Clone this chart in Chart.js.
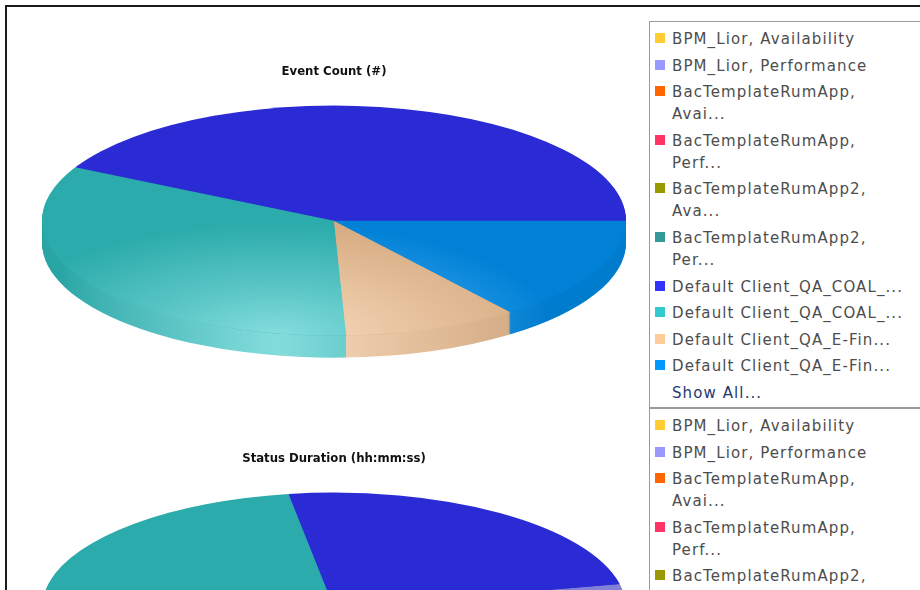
<!DOCTYPE html>
<html>
<head>
<meta charset="utf-8">
<script src="https://cdn.jsdelivr.net/npm/chart.js@4.4.1/dist/chart.umd.min.js"></script>
<style>
    html, body { margin: 0; padding: 0; background: #fff; overflow: hidden; }
    body { width: 920px; height: 590px; position: relative; }
    #frame { position: absolute; left: 5px; top: 5px; width: 940px; height: 620px;
             border-top: 2px solid #1b1b1b; border-left: 2px solid #1b1b1b; }
    .pie { position: absolute; left: 0; width: 650px; height: 394px; }
    #eventWrap { top: 0; }
    #durationWrap { top: 387px; }
    .legend { position: absolute; left: 649px; width: 300px; box-sizing: border-box;
              border: 1px solid #9a9a9a; padding-top: 6px; background: #fff;
              font-family: 'DejaVu Sans', Verdana, sans-serif; font-size: 15px;
              letter-spacing: 1.1px; color: #4d4d4d; }
    #legend1 { top: 21px; height: 387px; }
    #legend2 { top: 408px; height: 400px; }
    .item { position: relative; padding-left: 22px; line-height: 22px; margin-bottom: 4.6px; white-space: nowrap; }
    .swatch { position: absolute; left: 5px; top: 5px; width: 10px; height: 10px; }
    .more { color: #1f3a6e; }
</style>
</head>
<body>
<div id="frame"></div>
<div class="pie" id="eventWrap"><canvas id="eventChart"></canvas></div>
<div class="pie" id="durationWrap"><canvas id="durationChart"></canvas></div>
<div class="legend" id="legend1"></div>
<div class="legend" id="legend2"></div>
<script>
    const seriesLabels = [
        'BPM_Lior, Availability', 'BPM_Lior, Performance',
        'BacTemplateRumApp, Avai...', 'BacTemplateRumApp, Perf...',
        'BacTemplateRumApp2, Ava...', 'BacTemplateRumApp2, Per...',
        'Default Client_QA_COAL_...', 'Default Client_QA_COAL_...',
        'Default Client_QA_E-Fin...', 'Default Client_QA_E-Fin...'
    ];
    const seriesColors = ['#FFCC33', '#9999FF', '#FF6600', '#FF3366', '#999900',
                          '#339999', '#3333FF', '#33CCCC', '#FFCC99', '#0099FF'];
    const eventCounts = [0, 0, 0, 0, 0, 0, 127, 100, 29, 44];
    const durationSeconds = [0, 2850, 0, 0, 0, 0, 20900, 32830, 10370, 19450];
    const eventTitle = 'Event Count (#)';
    const durationTitle = 'Status Duration (hh:mm:ss)';
    const showAllText = 'Show All...';

    const TILT = 0.394;   // ellipse height / width
    const DEPTH = 22;     // thickness of the pie in px

    function rgbOf(hex) {
        const n = parseInt(hex.slice(1), 16);
        return [n >> 16, (n >> 8) & 255, n & 255];
    }
    function mix(a, b, t) {
        return a.map((v, k) => Math.round(v + (b[k] - v) * t));
    }
    function css(c, alpha) {
        return alpha === undefined ? 'rgb(' + c.join(',') + ')' : 'rgba(' + c.join(',') + ',' + alpha + ')';
    }
    const white = [255, 255, 255];
    const faceRgb = seriesColors.map(c => rgbOf(c).map(v => Math.round(v * 0.84)));
    const sideRgb = seriesColors.map(c => rgbOf(c).map(v => Math.round(v * 0.81)));
    const tintRgb = seriesColors.map(c => mix(rgbOf(c), white, 0.45));

    function pieFrame(chart) {
        const a = chart.chartArea;
        const rx = (a.right - a.left) / 2;
        const ry = rx * TILT;
        return { cx: (a.left + a.right) / 2, cy: a.top + ry, rx: rx, ry: ry };
    }

    // maps the library's round pie onto a flattened ellipse, counter-clockwise
    function toFace(ctx, f, arc, dy) {
        ctx.translate(f.cx, f.cy + dy);
        ctx.scale(f.rx / arc.outerRadius, -f.ry / arc.outerRadius);
        ctx.translate(-arc.x, -arc.y);
    }

    // light falling on the front of the pie
    function glow(ctx, ref) {
        const R = ref.outerRadius;
        const gx = ref.x - 0.2 * R, gy = ref.y - 1.0 * R;
        return ctx.createRadialGradient(gx, gy, 0, gx, gy, 0.98 * R);
    }

    function slicePath(ctx, arc) {
        ctx.beginPath();
        ctx.moveTo(arc.x, arc.y);
        ctx.arc(arc.x, arc.y, arc.outerRadius, arc.startAngle, arc.endAngle);
        ctx.closePath();
    }

    const tiltedPie = {
        id: 'tiltedPie',
        beforeDatasetsDraw(chart) {
            const ctx = chart.ctx;
            const f = pieFrame(chart);
            const arcs = chart.getDatasetMeta(0).data;
            const ref = arcs[0];
            for (let d = DEPTH; d >= 1; d--) {
                arcs.forEach((arc, i) => {
                    if (arc.endAngle - arc.startAngle <= 0) return;
                    ctx.save();
                    toFace(ctx, f, ref, d);
                    const g = glow(ctx, ref);
                    g.addColorStop(0, css(mix(sideRgb[i], tintRgb[i], 0.9)));
                    g.addColorStop(0.4, css(mix(sideRgb[i], tintRgb[i], 0.5)));
                    g.addColorStop(1, css(sideRgb[i]));
                    slicePath(ctx, arc);
                    ctx.fillStyle = g;
                    ctx.fill();
                    ctx.restore();
                });
            }
            ctx.save();
            toFace(ctx, f, ref, 0);
        },
        afterDatasetsDraw(chart) {
            const ctx = chart.ctx;
            const arcs = chart.getDatasetMeta(0).data;
            const ref = arcs[0];
            arcs.forEach((arc, i) => {
                if (arc.endAngle - arc.startAngle <= 0) return;
                const g = glow(ctx, ref);
                g.addColorStop(0, css(tintRgb[i], 0.9));
                g.addColorStop(0.4, css(tintRgb[i], 0.5));
                g.addColorStop(1, css(tintRgb[i], 0));
                slicePath(ctx, arc);
                ctx.fillStyle = g;
                ctx.fill();
            });
            ctx.restore();
        }
    };

    function makePie(id, title, values) {
        const ctx = document.getElementById(id).getContext('2d');
        return new Chart(ctx, {
            type: 'pie',
            data: {
                labels: seriesLabels,
                datasets: [{
                    data: values,
                    backgroundColor: faceRgb.map(c => css(c)),
                    borderWidth: 0,
                    clip: false
                }]
            },
            options: {
                responsive: true,
                maintainAspectRatio: false,
                animation: false,
                events: [],
                rotation: 90,
                layout: { padding: { left: 42, right: 24, top: 0, bottom: 0 } },
                plugins: {
                    legend: { display: false },
                    tooltip: { enabled: false },
                    title: {
                        display: true,
                        text: title,
                        color: '#111',
                        font: { family: "'DejaVu Sans Condensed', 'DejaVu Sans', sans-serif", size: 13, weight: 'bold', lineHeight: 1.2 },
                        padding: { top: 64, bottom: 26 }
                    }
                }
            },
            plugins: [tiltedPie]
        });
    }

    makePie('eventChart', eventTitle, eventCounts);
    makePie('durationChart', durationTitle, durationSeconds);

    // html legends
    function fillLegend(el) {
        seriesLabels.forEach((label, i) => {
            const item = document.createElement('div');
            item.className = 'item';
            const sw = document.createElement('span');
            sw.className = 'swatch';
            sw.style.background = seriesColors[i];
            item.appendChild(sw);
            const parts = label.length > 22 && label.includes(', ') ? label.split(', ') : [label];
            parts.forEach((p, k) => {
                if (k > 0) item.appendChild(document.createElement('br'));
                item.appendChild(document.createTextNode(k < parts.length - 1 ? p + ',' : p));
            });
            el.appendChild(item);
        });
        const more = document.createElement('div');
        more.className = 'item more';
        more.textContent = showAllText;
        el.appendChild(more);
    }
    fillLegend(document.getElementById('legend1'));
    fillLegend(document.getElementById('legend2'));
</script>
</body>
</html>
